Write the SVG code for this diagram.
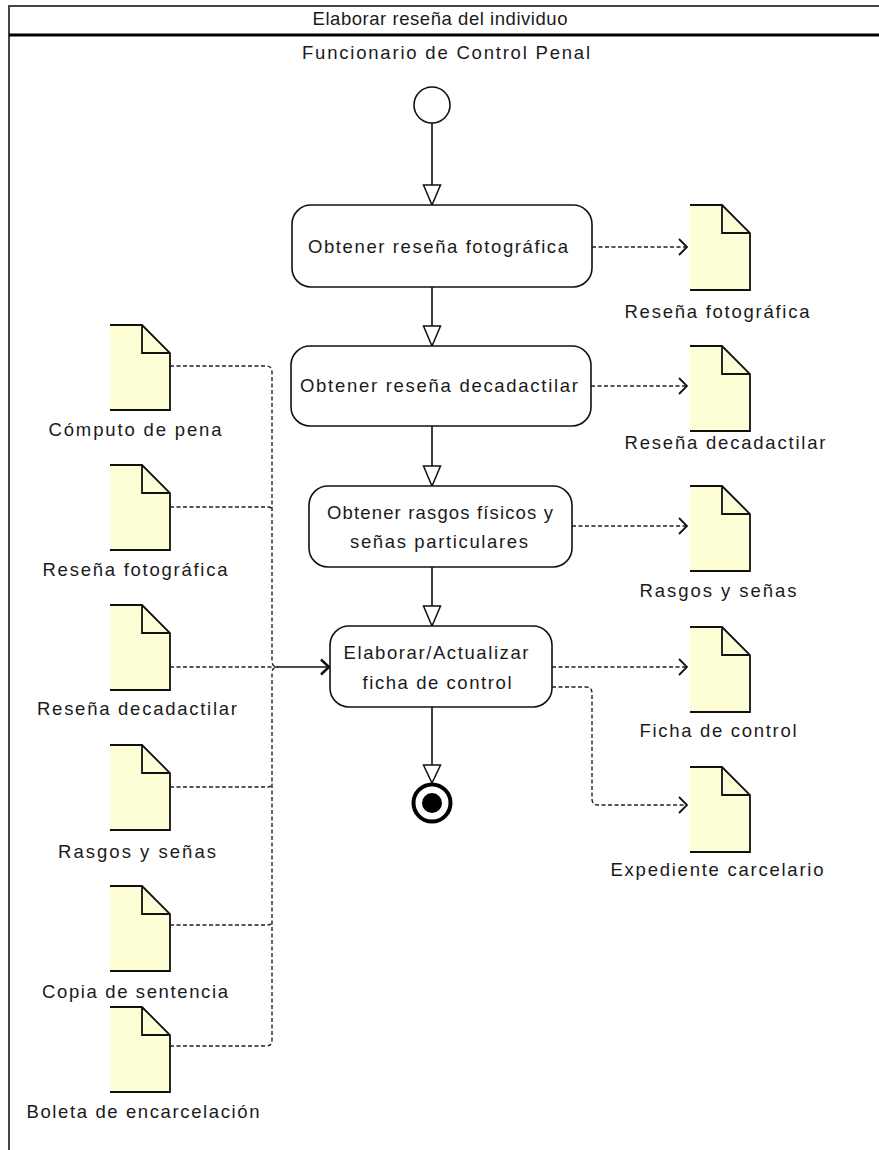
<svg xmlns="http://www.w3.org/2000/svg" width="879" height="1150" viewBox="0 0 879 1150">
<defs>
<style>
text{font-family:"Liberation Sans",Arial,sans-serif;font-size:18.5px;fill:#1a1a1a;text-anchor:middle}
.pane{fill:none;stroke:#444;stroke-width:2}
.div{fill:none;stroke:#000;stroke-width:3}
.act{fill:#fff;stroke:#111;stroke-width:1.6}
.flow{fill:none;stroke:#111;stroke-width:1.6}
.tri{fill:#fff;stroke:#111;stroke-width:1.5;stroke-linejoin:miter}
.dash{fill:none;stroke:#222;stroke-width:1.4;stroke-dasharray:4 2.5}
.docf{fill:#fdfdd6;stroke:none}
.docs{fill:none;stroke:#111;stroke-width:1.8;stroke-linejoin:miter}
</style>
<marker id="open" viewBox="0 0 10 18" refX="9" refY="9" markerWidth="10" markerHeight="18" markerUnits="userSpaceOnUse" orient="auto">
<path d="M1,1 L9,9 L1,17" fill="none" stroke="#111" stroke-width="1.8"/>
</marker>
<marker id="openB" viewBox="0 0 10 18" refX="9" refY="9" markerWidth="10" markerHeight="18" markerUnits="userSpaceOnUse" orient="auto">
<path d="M1,1.5 L9,9 L1,16.5" fill="none" stroke="#111" stroke-width="2.6"/>
</marker>
<g id="doc">
<polygon class="docf" points="0,0 32,0 60,28 60,85 0,85"/>
<path class="docs" d="M0,0 H32 L60,28 V85 H0 M32,0 V28 H60"/>
</g>
</defs>
<rect width="879" height="1150" fill="#fff"/>

<g id="pane">
<path class="pane" d="M890,6 H9 V1160"/>
<path class="div" d="M9,35 H890"/>
<text x="440" y="25" textLength="255" lengthAdjust="spacing">Elaborar reseña del individuo</text>
<text x="446" y="59" textLength="288" lengthAdjust="spacing">Funcionario de Control Penal</text>
</g>

<g id="connectors">
<path class="flow" d="M432,123 V185"/>
<polygon class="tri" points="423.5,185 440.5,185 432,205"/>
<path class="flow" d="M432,287 V326"/>
<polygon class="tri" points="423.5,326 440.5,326 432,346"/>
<path class="flow" d="M432,426 V466"/>
<polygon class="tri" points="423.5,466 440.5,466 432,486"/>
<path class="flow" d="M432,567 V606"/>
<polygon class="tri" points="423.5,606 440.5,606 432,626"/>
<path class="flow" d="M432,707 V765"/>
<polygon class="tri" points="423.5,765 440.5,765 432,783"/>

<path class="dash" d="M592,247 H687" marker-end="url(#open)"/>
<path class="dash" d="M591,386 H687" marker-end="url(#open)"/>
<path class="dash" d="M572,526 H687" marker-end="url(#open)"/>
<path class="dash" d="M552,667 H687" marker-end="url(#open)"/>
<path class="dash" d="M552,687 H586 Q592,687 592,693 V799 Q592,805 598,805 H687" marker-end="url(#open)"/>

<path class="dash" d="M170,366 H266 Q272,366 272,372 V661 Q272,667 278,667"/>
<path class="dash" d="M170,507 H268 Q272,507 272,511"/>
<path class="dash" d="M170,667 H278"/>
<path class="dash" d="M170,787 H268 Q272,787 272,783"/>
<path class="dash" d="M170,925 H268 Q272,925 272,921"/>
<path class="dash" d="M170,1046 H266 Q272,1046 272,1040 V673 Q272,667 278,667"/>
<path class="flow" d="M278,667 H329" marker-end="url(#openB)"/>
</g>

<g id="start"><circle cx="432" cy="105" r="18" fill="#fff" stroke="#111" stroke-width="1.6"/></g>

<g id="act1">
<rect class="act" x="292" y="205" width="300" height="82" rx="19"/>
<text x="438" y="253" textLength="260" lengthAdjust="spacing">Obtener reseña fotográfica</text>
</g>
<g id="act2">
<rect class="act" x="291" y="346" width="300" height="80" rx="19"/>
<text x="439" y="392" textLength="278" lengthAdjust="spacing">Obtener reseña decadactilar</text>
</g>
<g id="act3">
<rect class="act" x="309" y="486" width="263" height="81" rx="19"/>
<text x="440" y="519" textLength="226" lengthAdjust="spacing">Obtener rasgos físicos y</text>
<text x="439" y="548" textLength="178" lengthAdjust="spacing">señas particulares</text>
</g>
<g id="act4">
<rect class="act" x="330" y="626" width="222" height="81" rx="19"/>
<text x="436" y="659" textLength="185" lengthAdjust="spacing">Elaborar/Actualizar</text>
<text x="437" y="689" textLength="149" lengthAdjust="spacing">ficha de control</text>
</g>
<g id="end">
<circle cx="432" cy="803" r="18.5" fill="#fff" stroke="#000" stroke-width="4"/>
<circle cx="432" cy="803" r="10" fill="#000"/>
</g>

<g id="out-resena-foto"><use href="#doc" x="690" y="205"/><text x="717" y="318" textLength="185" lengthAdjust="spacing">Reseña fotográfica</text></g>
<g id="out-resena-deca"><use href="#doc" x="690" y="346"/><text x="725" y="449" textLength="201" lengthAdjust="spacing">Reseña decadactilar</text></g>
<g id="out-rasgos"><use href="#doc" x="690" y="486"/><text x="718" y="597" textLength="157" lengthAdjust="spacing">Rasgos y señas</text></g>
<g id="out-ficha"><use href="#doc" x="690" y="627"/><text x="718" y="737" textLength="157" lengthAdjust="spacing">Ficha de control</text></g>
<g id="out-expediente"><use href="#doc" x="690" y="767"/><text x="717" y="876" textLength="213" lengthAdjust="spacing">Expediente carcelario</text></g>

<g id="in-computo"><use href="#doc" x="110" y="325"/><text x="135" y="436" textLength="173" lengthAdjust="spacing">Cómputo de pena</text></g>
<g id="in-resena-foto"><use href="#doc" x="110" y="465"/><text x="135" y="576" textLength="185" lengthAdjust="spacing">Reseña fotográfica</text></g>
<g id="in-resena-deca"><use href="#doc" x="110" y="605"/><text x="137" y="715" textLength="200" lengthAdjust="spacing">Reseña decadactilar</text></g>
<g id="in-rasgos"><use href="#doc" x="110" y="745"/><text x="137" y="858" textLength="158" lengthAdjust="spacing">Rasgos y señas</text></g>
<g id="in-copia"><use href="#doc" x="110" y="886"/><text x="135" y="998" textLength="186" lengthAdjust="spacing">Copia de sentencia</text></g>
<g id="in-boleta"><use href="#doc" x="110" y="1007"/><text x="143" y="1118" textLength="233" lengthAdjust="spacing">Boleta de encarcelación</text></g>
</svg>
